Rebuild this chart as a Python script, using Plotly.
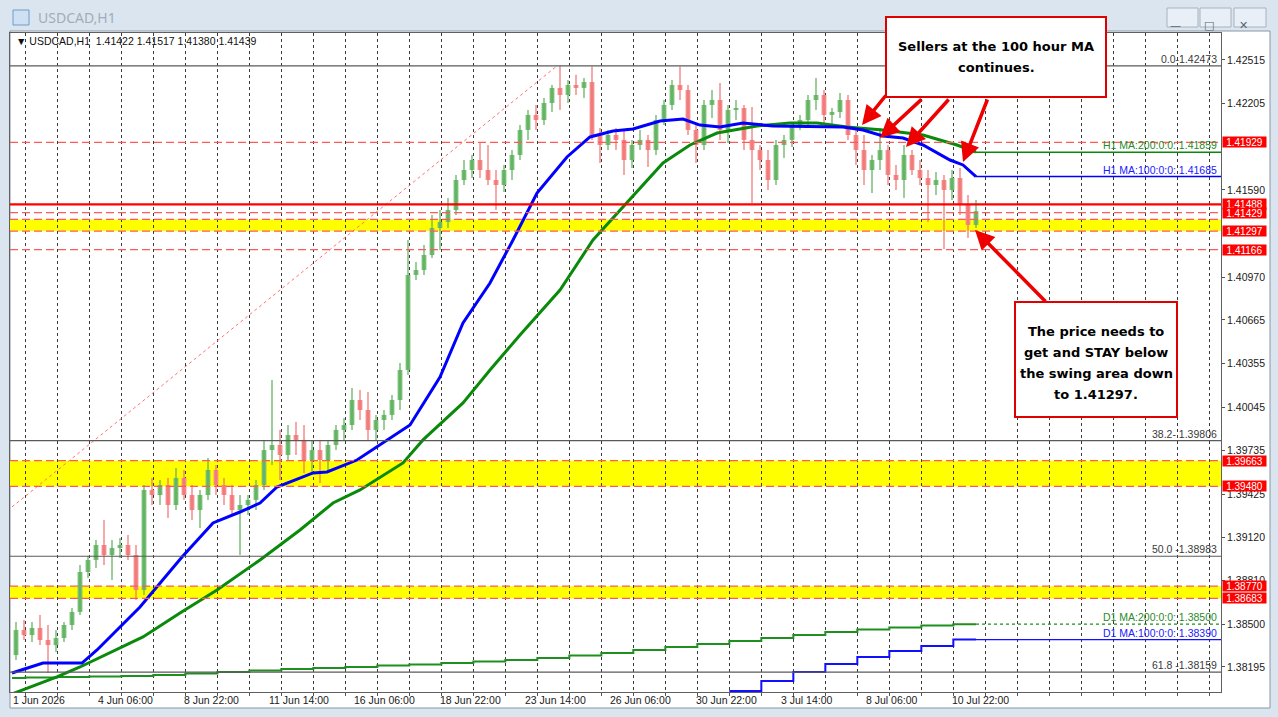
import plotly.graph_objects as go

# ---------------- data (USDCAD H1, 6-bar candles) ----------------
candle_open = [1.38280, 1.38458, 1.38422, 1.38473, 1.38387, 1.38351, 1.38401, 1.38494, 1.38587, 1.38871,
               1.38957, 1.39063, 1.38992, 1.39042, 1.39063, 1.38992, 1.38743, 1.39455, 1.39419, 1.39490,
               1.39348, 1.39540, 1.39419, 1.39312, 1.39419, 1.39597, 1.39490, 1.39419, 1.39312, 1.39348,
               1.39384, 1.39490, 1.39739, 1.39775, 1.39704, 1.39846, 1.39811, 1.39668, 1.39739, 1.39668,
               1.39775, 1.39882, 1.39917, 1.40095, 1.40024, 1.39882, 1.39953, 1.39989, 1.40095, 1.40309,
               1.40985, 1.41020, 1.41127, 1.41319, 1.41362, 1.41447, 1.41661, 1.41732, 1.41803, 1.41732,
               1.41661, 1.41625, 1.41732, 1.41839, 1.42017, 1.42124, 1.42088, 1.42209, 1.42316, 1.42266,
               1.42337, 1.42316, 1.42358, 1.41981, 1.41910, 1.41981, 1.41946, 1.41803, 1.41910, 1.41946,
               1.41874, 1.42088, 1.42195, 1.42337, 1.42301, 1.42017, 1.41910, 1.42195, 1.42230, 1.42017,
               1.42159, 1.42173, 1.41946, 1.41874, 1.41803, 1.41661, 1.41910, 1.41946, 1.42052, 1.42088,
               1.42230, 1.42266, 1.42124, 1.42145, 1.42230, 1.41981, 1.41874, 1.41732, 1.41803, 1.41874,
               1.41697, 1.41661, 1.41839, 1.41732, 1.41675, 1.41625, 1.41661, 1.41590, 1.41675, 1.41483,
               1.41341]
candle_high = [1.38516, 1.38530, 1.38516, 1.38565, 1.38494, 1.38458, 1.38516, 1.38615, 1.38921, 1.38985,
               1.39099, 1.39241, 1.39099, 1.39113, 1.39134, 1.39063, 1.39490, 1.39540, 1.39526, 1.39540,
               1.39611, 1.39597, 1.39490, 1.39455, 1.39682, 1.39632, 1.39540, 1.39490, 1.39419, 1.39419,
               1.39526, 1.39811, 1.40238, 1.39882, 1.39917, 1.39939, 1.39917, 1.39811, 1.39811, 1.39811,
               1.39917, 1.39967, 1.40181, 1.40166, 1.40152, 1.39989, 1.40024, 1.40131, 1.40359, 1.41234,
               1.41078, 1.41198, 1.41412, 1.41447, 1.41533, 1.41696, 1.41803, 1.41839, 1.41932, 1.41910,
               1.41732, 1.41768, 1.41874, 1.42052, 1.42159, 1.42195, 1.42244, 1.42337, 1.42473, 1.42373,
               1.42409, 1.42387, 1.42466, 1.42031, 1.42017, 1.42031, 1.42017, 1.41946, 1.42017, 1.41981,
               1.42124, 1.42230, 1.42373, 1.42466, 1.42337, 1.42052, 1.42230, 1.42301, 1.42351, 1.42195,
               1.42230, 1.42195, 1.42181, 1.41910, 1.41874, 1.41946, 1.41981, 1.42074, 1.42124, 1.42266,
               1.42387, 1.42301, 1.42173, 1.42280, 1.42266, 1.42017, 1.41981, 1.41839, 1.42031, 1.41910,
               1.41768, 1.41910, 1.41874, 1.41803, 1.41732, 1.41718, 1.41697, 1.41732, 1.41746, 1.41554,
               1.41519]
candle_low = [1.38245, 1.38387, 1.38373, 1.38351, 1.38153, 1.38302, 1.38373, 1.38458, 1.38565, 1.38828,
              1.38900, 1.38921, 1.38814, 1.38971, 1.38957, 1.38672, 1.38707, 1.39348, 1.39348, 1.39255,
              1.39312, 1.39384, 1.39241, 1.39184, 1.39384, 1.39419, 1.39348, 1.39277, 1.38992, 1.39277,
              1.39312, 1.39455, 1.39632, 1.39526, 1.39668, 1.39704, 1.39576, 1.39561, 1.39505, 1.39597,
              1.39739, 1.39811, 1.39882, 1.39953, 1.39811, 1.39811, 1.39882, 1.39953, 1.40024, 1.40273,
              1.40949, 1.40985, 1.41106, 1.41163, 1.41319, 1.41412, 1.41625, 1.41675, 1.41675, 1.41625,
              1.41447, 1.41576, 1.41661, 1.41803, 1.41946, 1.42017, 1.42052, 1.42145, 1.42159, 1.42209,
              1.42266, 1.42244, 1.41946, 1.41782, 1.41874, 1.41874, 1.41697, 1.41746, 1.41874, 1.41753,
              1.41839, 1.42052, 1.42159, 1.42230, 1.41981, 1.41782, 1.41874, 1.42102, 1.41946, 1.41924,
              1.42088, 1.41874, 1.41497, 1.41732, 1.41590, 1.41625, 1.41817, 1.41896, 1.42017, 1.42052,
              1.42159, 1.42067, 1.42052, 1.42102, 1.41946, 1.41768, 1.41625, 1.41569, 1.41732, 1.41625,
              1.41590, 1.41533, 1.41697, 1.41625, 1.41362, 1.41554, 1.41170, 1.41519, 1.41412, 1.41248,
              1.41319]
candle_close = [1.38458, 1.38422, 1.38473, 1.38387, 1.38351, 1.38401, 1.38494, 1.38587, 1.38871, 1.38957,
                1.39063, 1.38992, 1.39042, 1.39063, 1.38992, 1.38743, 1.39455, 1.39419, 1.39490, 1.39348,
                1.39540, 1.39419, 1.39312, 1.39419, 1.39597, 1.39490, 1.39419, 1.39312, 1.39348, 1.39384,
                1.39490, 1.39739, 1.39775, 1.39704, 1.39846, 1.39811, 1.39668, 1.39739, 1.39668, 1.39775,
                1.39882, 1.39917, 1.40095, 1.40024, 1.39882, 1.39953, 1.39989, 1.40095, 1.40309, 1.40985,
                1.41020, 1.41127, 1.41319, 1.41362, 1.41447, 1.41661, 1.41732, 1.41803, 1.41732, 1.41661,
                1.41625, 1.41732, 1.41839, 1.42017, 1.42124, 1.42088, 1.42209, 1.42316, 1.42266, 1.42337,
                1.42316, 1.42358, 1.41981, 1.41910, 1.41981, 1.41946, 1.41803, 1.41910, 1.41946, 1.41874,
                1.42088, 1.42195, 1.42337, 1.42301, 1.42017, 1.41910, 1.42195, 1.42230, 1.42017, 1.42159,
                1.42173, 1.41946, 1.41874, 1.41803, 1.41661, 1.41910, 1.41946, 1.42052, 1.42088, 1.42230,
                1.42266, 1.42124, 1.42145, 1.42230, 1.41981, 1.41874, 1.41732, 1.41803, 1.41874, 1.41697,
                1.41661, 1.41839, 1.41732, 1.41675, 1.41625, 1.41661, 1.41590, 1.41675, 1.41483, 1.41341,
                1.41439]
# bar index (hours of trading since 1 Jun 14:00) of each 6-hour candle's centre
candle_bar = [6 * k + 3 for k in range(len(candle_open))]

h1_ma100_bar = [0, 23.25, 52.5, 63.75, 96, 108.75, 127.5, 150.75, 171, 186, 198.75, 225.75, 236.25, 258.75,
                293.25, 298.5, 321, 338.25, 358.5, 375.75, 393.75, 416.25, 433.5, 450.75, 465.75, 486,
                503.25, 516, 531, 548.25, 570.75, 608.25, 623.25, 638.25, 653.25, 668.25, 683.25, 703.5,
                713.25, 723]
h1_ma100_val = [1.38152, 1.38223, 1.38223, 1.38316, 1.38622, 1.38764, 1.38978, 1.39220, 1.39298, 1.39362,
                1.39476, 1.39576, 1.39583, 1.39668, 1.39882, 1.39917, 1.40259, 1.40643, 1.40928, 1.41234,
                1.41568, 1.41825, 1.41967, 1.42010, 1.42024, 1.42081, 1.42095, 1.42052, 1.42038, 1.42067,
                1.42045, 1.42038, 1.42038, 1.42017, 1.41974, 1.41960, 1.41910, 1.41803, 1.41768, 1.41685]

h1_ma200_bar = [0, 33.75, 51, 98.25, 126, 153.75, 186, 216, 240.75, 261, 293.25, 308.25, 338.25, 358.5,
                381, 411, 435.75, 461.25, 488.25, 508.5, 528.75, 558.75, 583.5, 603.75, 626.25, 653.25,
                683.25, 708.75, 723]
h1_ma200_val = [1.38003, 1.38124, 1.38195, 1.38409, 1.38579, 1.38743, 1.38957, 1.39170, 1.39362, 1.39455,
                1.39647, 1.39811, 1.40074, 1.40309, 1.40558, 1.40878, 1.41234, 1.41497, 1.41782, 1.41910,
                1.41995, 1.42045, 1.42067, 1.42067, 1.42038, 1.42017, 1.41981, 1.41910, 1.41859]

d1_ma200_bar = [0, 10, 34, 58, 82, 106, 130, 154, 178, 202, 226, 250, 274, 298, 322, 346, 370, 394, 418,
                442, 466, 490, 514, 538, 562, 586, 610, 634, 658, 682, 706]
d1_ma200_val = [1.38117, 1.38120, 1.38124, 1.38127, 1.38131, 1.38138, 1.38149, 1.38159, 1.38170, 1.38181,
                1.38188, 1.38195, 1.38206, 1.38213, 1.38224, 1.38234, 1.38245, 1.38259, 1.38277, 1.38295,
                1.38316, 1.38337, 1.38359, 1.38380, 1.38401, 1.38423, 1.38444, 1.38462, 1.38476, 1.38490,
                1.38500]
d1_ma100_bar = [538, 562, 586, 610, 634, 658, 682, 706]
d1_ma100_val = [1.38024, 1.38096, 1.38160, 1.38217, 1.38266, 1.38309, 1.38345, 1.38390]

fib_prices = [1.42473, 1.39806, 1.38983, 1.38159]
fib_texts = ["0.0-1.42473", "38.2- 1.39806", "50.0 -1.38983", "61.8 -1.38159"]
fib_diag_bar = [0, 408.75]
fib_diag_val = [1.39334, 1.42473]

zone_low = [1.41297, 1.39480, 1.38683]
zone_high = [1.41380, 1.39663, 1.38770]
dashed_levels = [1.41929, 1.41429, 1.41166]
solid_level = 1.41488
price_tags = [1.41929, 1.41488, 1.41429, 1.41297, 1.41166, 1.39663, 1.39480, 1.38770, 1.38683]

y_ticks = [1.42515, 1.42205, 1.41590, 1.40970, 1.40665, 1.40355, 1.40045, 1.39735,
           1.39425, 1.39120, 1.38810, 1.38500, 1.38195]
x_label_bar = [0, 64, 128, 192, 256, 320, 384, 448, 512, 576, 640, 704]
x_labels = ["1 Jun 2026", "4 Jun 06:00", "8 Jun 22:00", "11 Jun 14:00", "16 Jun 06:00", "18 Jun 22:00",
            "23 Jun 14:00", "26 Jun 06:00", "30 Jun 22:00", "3 Jul 14:00", "8 Jul 06:00", "10 Jul 22:00"]

# ---------------- layout geometry ----------------
W, H = 1278, 717
PL, PR, PT, PB = 10, 1221, 33, 692
X_RANGE = [-1.5, 906.75]
Y_RANGE = [1.38017, 1.42707]


def px(p):  # pixel x -> paper
    return (p - PL) / (PR - PL)


def py(p):  # pixel y -> paper
    return (PB - p) / (PB - PT)


def dx(p):  # pixel x -> data x
    return X_RANGE[0] + (p - PL) / (PR - PL) * (X_RANGE[1] - X_RANGE[0])


def dy(p):  # pixel y -> data y
    return Y_RANGE[1] - (p - PT) / (PB - PT) * (Y_RANGE[1] - Y_RANGE[0])


FONT = "Liberation Sans, Arial, sans-serif"
RED = "#ff0000"
DASHRED = "#ff5a5a"
UP_BODY, UP_WICK = "#74bf74", "#5aae5a"
DN_BODY, DN_WICK = "#f48a8a", "#f07070"

fig = go.Figure()
shapes = []
ann = []

# window chart area (white)
shapes.append(dict(type="rect", xref="paper", yref="paper", x0=px(10), x1=px(1270), y0=py(708), y1=py(31),
                   fillcolor="white", line=dict(color="#8a96a4", width=1), layer="below"))
# yellow zones
for lo, hi in zip(zone_low, zone_high):
    shapes.append(dict(type="rect", xref="paper", yref="y", x0=0, x1=1, y0=lo, y1=hi,
                       fillcolor="#ffff00", line=dict(width=0), layer="below"))
    for v in (lo, hi):
        shapes.append(dict(type="line", xref="paper", yref="y", x0=0, x1=1, y0=v, y1=v,
                           line=dict(color=DASHRED, width=1.2, dash="8px,4px")))
for v in dashed_levels:
    shapes.append(dict(type="line", xref="paper", yref="y", x0=0, x1=1, y0=v, y1=v,
                       line=dict(color=DASHRED, width=1.2, dash="8px,4px")))
shapes.append(dict(type="line", xref="paper", yref="y", x0=0, x1=1, y0=solid_level, y1=solid_level,
                   line=dict(color=RED, width=2.2)))
for v in fib_prices:
    shapes.append(dict(type="line", xref="paper", yref="y", x0=0, x1=1, y0=v, y1=v,
                       line=dict(color="#5a5a5a", width=1.2)))

# candles: wicks (scatter) + bodies (bars)
up = [c >= o for o, c in zip(candle_open, candle_close)]
for is_up, col in [(True, UP_WICK), (False, DN_WICK)]:
    wx, wy = [], []
    for b, hi, lo, u in zip(candle_bar, candle_high, candle_low, up):
        if u == is_up:
            wx += [b, b, None]
            wy += [lo, hi, None]
    fig.add_trace(go.Scatter(x=wx, y=wy, mode="lines", line=dict(color=col, width=1.2), hoverinfo="skip"))
body_base = [min(o, c) for o, c in zip(candle_open, candle_close)]
body_len = [max(abs(c - o), 0.00004) for o, c in zip(candle_open, candle_close)]
fig.add_trace(go.Bar(x=candle_bar, y=body_len, base=body_base, width=3.6,
                     marker=dict(color=[UP_BODY if u else DN_BODY for u in up], line=dict(width=0)),
                     hoverinfo="skip"))

# fib diagonal
fig.add_trace(go.Scatter(x=fib_diag_bar, y=fib_diag_val, mode="lines",
                         line=dict(color="#ff7070", width=1, dash="dot"), hoverinfo="skip"))

# daily MAs (stepped)
fig.add_trace(go.Scatter(x=d1_ma200_bar + [candle_bar[-1]], y=d1_ma200_val + [d1_ma200_val[-1]],
                         mode="lines", line=dict(color="#1f8f1f", width=2, shape="hv"), hoverinfo="skip"))
fig.add_trace(go.Scatter(x=d1_ma100_bar + [candle_bar[-1]], y=d1_ma100_val + [d1_ma100_val[-1]],
                         mode="lines", line=dict(color="#1010ff", width=2, shape="hv"), hoverinfo="skip"))
# hourly MAs
fig.add_trace(go.Scatter(x=h1_ma200_bar, y=h1_ma200_val, mode="lines",
                         line=dict(color="#0a8a0a", width=3), hoverinfo="skip"))
fig.add_trace(go.Scatter(x=h1_ma100_bar, y=h1_ma100_val, mode="lines",
                         line=dict(color="#0000ff", width=3), hoverinfo="skip"))

# MA continuation lines to right edge
last_bar = candle_bar[-1]
for val, col, w, dsh in [(h1_ma200_val[-1], "#0a8a0a", 1.5, "solid"), (h1_ma100_val[-1], "#0000ff", 1.5, "solid"),
                         (d1_ma200_val[-1], "#1f8f1f", 1.3, "dot"), (d1_ma100_val[-1], "#1010ff", 1.3, "solid")]:
    shapes.append(dict(type="line", xref="x", yref="y", x0=last_bar, x1=X_RANGE[1], y0=val, y1=val,
                       line=dict(color=col, width=w, dash=dsh)))

# MA labels and fib labels (right aligned, above their line)
ma_labels = [("H1 MA:200:0:0: 1.41859", h1_ma200_val[-1], "#2a8a2a"),
             ("H1 MA:100:0:0: 1.41685", h1_ma100_val[-1], "#2020ff"),
             ("D1 MA:200:0:0: 1.38500", d1_ma200_val[-1], "#2a8a2a"),
             ("D1 MA:100:0:0: 1.38390", d1_ma100_val[-1], "#2020ff")]
for t, v, c in ma_labels:
    ann.append(dict(xref="paper", yref="y", x=px(1219), y=v, xanchor="right", yanchor="bottom", text=t,
                    showarrow=False, font=dict(family=FONT, size=10.5, color=c), yshift=-1))
for t, v in zip(fib_texts, fib_prices):
    ann.append(dict(xref="paper", yref="y", x=px(1219), y=v, xanchor="right", yanchor="bottom", text=t,
                    showarrow=False, font=dict(family=FONT, size=10.5, color="#3a3a3a"), yshift=-1))

# red price tags on the axis
for v in price_tags:
    ann.append(dict(xref="paper", yref="y", x=px(1222), y=v, xanchor="left", yanchor="middle",
                    text=f"{v:.5f}", showarrow=False, bgcolor=RED, width=42, height=9, borderpad=0.5,
                    font=dict(family=FONT, size=10, color="white")))

# x-axis labels (left aligned at their bar)
for b, t in zip(x_label_bar, x_labels):
    ann.append(dict(xref="x", yref="paper", x=b, y=py(700), xanchor="left", yanchor="middle", text=t,
                    showarrow=False, font=dict(family=FONT, size=10.5, color="#202020"), xshift=-1))

# header inside chart
ann.append(dict(xref="paper", yref="paper", x=px(14), y=py(41), xanchor="left", yanchor="middle",
                text="\u25bc USDCAD,H1  1.41422 1.41517 1.41380 1.41439", showarrow=False,
                font=dict(family=FONT, size=10.5, color="#101010")))

# title bar
ann.append(dict(xref="paper", yref="paper", x=px(36), y=py(17), xanchor="left", yanchor="middle",
                text="USDCAD,H1", showarrow=False, font=dict(family="Noto Sans, sans-serif", size=14, color="#a3acb6")))
shapes.append(dict(type="rect", xref="paper", yref="paper", x0=px(13), x1=px(29), y0=py(25), y1=py(10),
                   fillcolor="#cfe0f3", line=dict(color="#6d9ccf", width=1)))
for x0, x1, glyph in [(1167, 1198, "\u2014"), (1200, 1231, "\u25a1"), (1234, 1266, "\u2715")]:
    shapes.append(dict(type="rect", xref="paper", yref="paper", x0=px(x0), x1=px(x1), y0=py(27), y1=py(8),
                       fillcolor="#e9eff6", line=dict(color="#a7b2bf", width=1)))
    ann.append(dict(xref="paper", yref="paper", x=px((x0 + x1) / 2), y=py(17.5), text=glyph, showarrow=False,
                    font=dict(family="DejaVu Sans", size=11, color="#5a6570")))

# annotation boxes
shapes.append(dict(type="rect", xref="paper", yref="paper", x0=px(886), x1=px(1106), y0=py(97), y1=py(17),
                   fillcolor="white", line=dict(color="#e00000", width=2)))
shapes.append(dict(type="rect", xref="paper", yref="paper", x0=px(1015), x1=px(1177), y0=py(417), y1=py(302),
                   fillcolor="white", line=dict(color="#e00000", width=2)))
BOLD = dict(family="DejaVu Sans, Verdana, sans-serif", size=13, color="black")
for t, yy in [("Sellers at the 100 hour MA", 47), ("continues.", 67)]:
    ann.append(dict(xref="paper", yref="paper", x=px(996), y=py(yy), text=f"<b>{t}</b>", showarrow=False,
                    xanchor="center", yanchor="middle", font=BOLD))
for t, yy in [("The price needs to", 331), ("get and STAY below", 352), ("the swing area down", 373),
              ("to 1.41297.", 394)]:
    ann.append(dict(xref="paper", yref="paper", x=px(1096), y=py(yy), text=f"<b>{t}</b>", showarrow=False,
                    xanchor="center", yanchor="middle", font=BOLD))

# arrows (tail pixel -> tip pixel)
for (tx, ty), (hx, hy) in [((887, 94), (862, 125)), ((923, 98), (880, 138)), ((950, 98), (906, 147)),
                           ((988, 98), (963, 162)), ((1047, 303), (975, 230))]:
    ann.append(dict(xref="x", yref="y", axref="x", ayref="y", x=dx(hx), y=dy(hy), ax=dx(tx), ay=dy(ty),
                    text="", showarrow=True, arrowhead=2, arrowsize=1.1, arrowwidth=3.5, arrowcolor="#ee0000"))

fig.update_layout(
    width=W, height=H, autosize=False,
    margin=dict(l=PL, r=W - PR, t=PT, b=H - PB, pad=0),
    paper_bgcolor="#dbe5f0", plot_bgcolor="white", showlegend=False, barmode="overlay",
    shapes=shapes, annotations=ann,
    xaxis=dict(range=X_RANGE, showgrid=True, gridcolor="#3a3a3a",
               griddash="dot", gridwidth=1, tick0=10, dtick=24, ticks="outside", ticklen=3, tickcolor="#555",
               showticklabels=False, showline=True, linecolor="#606060", linewidth=1, mirror=True,
               zeroline=False, fixedrange=True),
    yaxis=dict(range=Y_RANGE, side="right", showgrid=False, tickvals=y_ticks, tickformat=".5f",
               ticks="outside", ticklen=3, tickcolor="#555", showline=True, linecolor="#606060",
               linewidth=1, mirror=True, zeroline=False,
               tickfont=dict(family=FONT, size=10.5, color="#202020"), fixedrange=True),
)

fig.write_html("out.html")
